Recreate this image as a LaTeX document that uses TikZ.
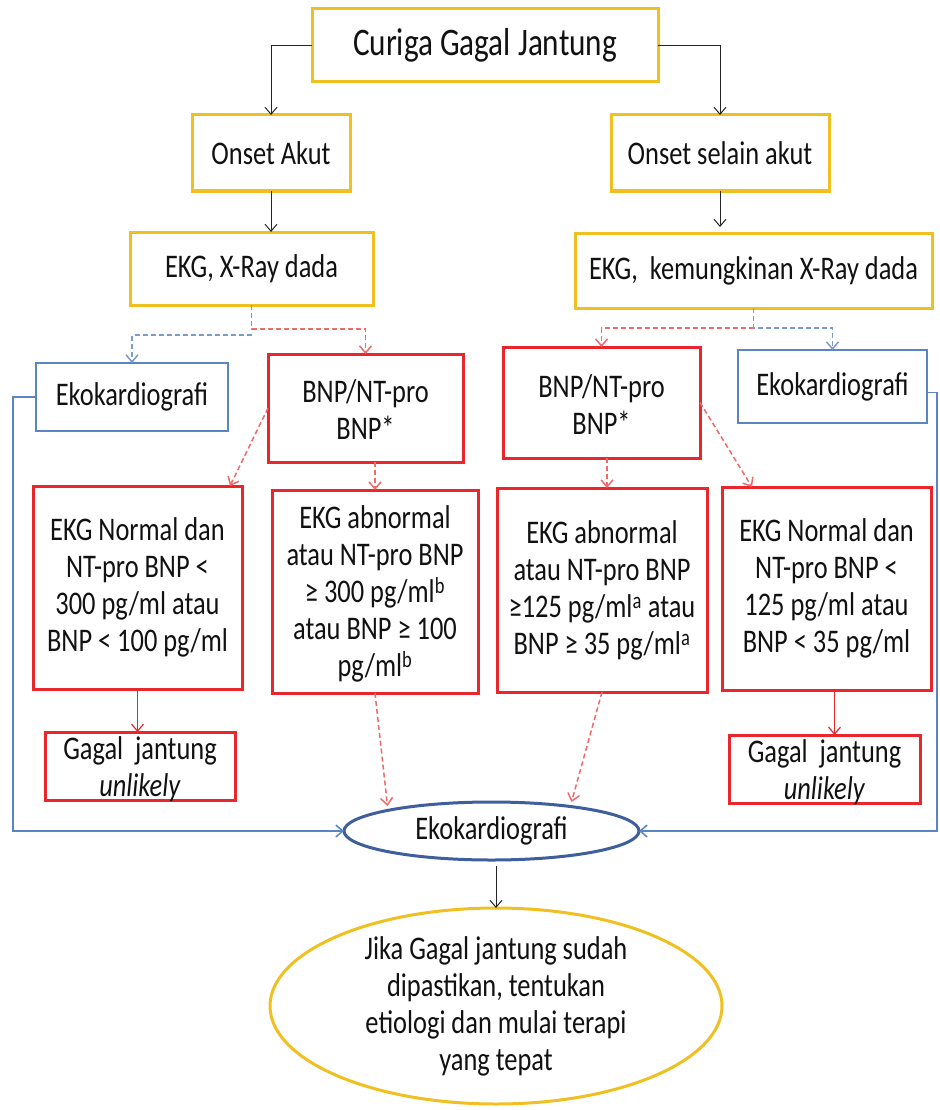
\documentclass[tikz,border=0pt]{standalone}
\usepackage{fontspec}
\setmainfont{Carlito}[FakeStretch=0.8]
\usetikzlibrary{arrows.meta,shapes.geometric,calc}
\definecolor{ylw}{HTML}{F0C020}
\definecolor{rd}{HTML}{E8262B}
\definecolor{rdl}{HTML}{F06A6A}
\definecolor{bl}{HTML}{5B84C4}
\definecolor{bll}{HTML}{7B9AD0}
\definecolor{dbl}{HTML}{3E5F9C}
\definecolor{txt}{HTML}{111111}
\begin{document}
\begin{tikzpicture}[x=1pt,y=-1pt,
 every node/.style={inner sep=0pt, outer sep=0pt},
 ybox/.style={draw=ylw, line width=3pt, rectangle},
 rbox/.style={draw=rd, line width=3pt, rectangle},
 bbox/.style={draw=bl, line width=2.2pt, rectangle},
 lbl/.style={align=center, font=\fontsize{33}{37}\selectfont, text=txt},
 tip/.style={-{Straight Barb[length=7pt,width=12pt]}},
 blk/.style={draw=black!85, line width=1pt, tip},
 rsolid/.style={draw=rd, line width=1.2pt, tip},
 rdash/.style={draw=rdl, line width=1.5pt, dash pattern=on 5pt off 3pt, tip},
 bdash/.style={draw=bll, line width=1.5pt, dash pattern=on 5pt off 3pt, tip},
 bline/.style={draw=bl, line width=1.5pt, tip},
]
\fill[white] (0,0) rectangle (939,1110);
\useasboundingbox (0,0) rectangle (939,1110);

% boxes
\node[ybox, minimum width=346, minimum height=73] (cur) at (485,45.5) {};
\node[ybox, minimum width=158, minimum height=76] (oa) at (271,153) {};
\node[ybox, minimum width=218, minimum height=76] (osa) at (720,153) {};
\node[ybox, minimum width=243, minimum height=73] (ekg1) at (251.5,268.5) {};
\node[ybox, minimum width=357, minimum height=75] (ekg2) at (753.5,270.5) {};
\node[bbox, minimum width=192, minimum height=68] (eko1) at (132,397) {};
\node[rbox, minimum width=195, minimum height=108] (bnp1) at (365.5,408) {};
\node[rbox, minimum width=197, minimum height=111] (bnp2) at (601.5,402.5) {};
\node[bbox, minimum width=189, minimum height=73] (eko2) at (832.5,386.5) {};
\node[rbox, minimum width=209, minimum height=203] (n1) at (137.5,587.5) {};
\node[rbox, minimum width=206, minimum height=203] (a1) at (375,591.5) {};
\node[rbox, minimum width=210, minimum height=204] (a2) at (602,590) {};
\node[rbox, minimum width=209, minimum height=203] (n2) at (826.5,588.5) {};
\node[rbox, minimum width=190, minimum height=68] (g1) at (140,766) {};
\node[rbox, minimum width=191, minimum height=68] (g2) at (824.5,769) {};
\node[ellipse, draw=dbl, line width=3pt, minimum width=295, minimum height=58] (ell) at (491.5,831) {};
\node[ellipse, draw=ylw, line width=3pt, minimum width=452, minimum height=196] (big) at (496,1006) {};

% texts
\node[lbl, font=\fontsize{39}{44}\selectfont] (curt) at (cur) {Curiga Gagal Jantung};
\node[lbl] (oat) at (oa) {Onset Akut};
\node[lbl] (osat) at (osa) {Onset selain akut};
\node[lbl] (ekg1t) at (ekg1) {EKG, X-Ray dada};
\node[lbl] (ekg2t) at (ekg2) {EKG,\ \ kemungkinan X-Ray dada};
\node[lbl] (eko1t) at (eko1) {Ekokardiografi};
\node[lbl] (eko2t) at (eko2) {Ekokardiografi};
\node[lbl] (bnp1t) at ($(bnp1)+(0,2)$) {BNP/NT-pro\\BNP*};
\node[lbl] (bnp2t) at ($(bnp2)+(0,2)$) {BNP/NT-pro\\BNP*};
\node[lbl] (n1t) at (n1) {EKG Normal dan\\NT-pro BNP <\\300 pg/ml atau\\BNP < 100 pg/ml};
\node[lbl] (a1t) at ($(a1)+(0,2)$) {EKG abnormal\\atau NT-pro BNP\\≥ 300 pg/ml\textsuperscript{b}\\atau BNP ≥ 100\\pg/ml\textsuperscript{b}};
\node[lbl] (a2t) at (a2) {EKG abnormal\\atau NT-pro BNP\\≥125 pg/ml\textsuperscript{a} atau\\BNP ≥ 35 pg/ml\textsuperscript{a}};
\node[lbl] (n2t) at (n2) {EKG Normal dan\\NT-pro BNP <\\125 pg/ml atau\\BNP < 35 pg/ml};
\node[lbl] (g1t) at ($(g1)+(0,3)$) {Gagal\ \ jantung\\\textit{unlikely}};
\node[lbl] (g2t) at ($(g2)+(0,3)$) {Gagal\ \ jantung\\\textit{unlikely}};
\node[lbl] (ellt) at (ell) {Ekokardiografi};
\node[lbl] (bigt) at (big) {Jika Gagal jantung sudah\\dipastikan, tentukan\\etiologi dan mulai terapi\\yang tepat};

% coordinates
\coordinate (j1r) at ($(ekg1.south)+(0,24)$);
\coordinate (j1b) at ($(ekg1.south)+(0,30)$);
\coordinate (j2) at ($(ekg2.south)+(0,20)$);
\coordinate (v1) at ($(a1.north)$);
\coordinate (v2) at ($(a2.north)+(5,0)$);
\coordinate (vn1) at ($(n1.north east)+(-12,0)$);
\coordinate (vn2) at ($(n2.north west)+(30,0)$);
\coordinate (vg2) at ($(g2.north)+(10,0)$);
\coordinate (e1) at ($(ell.center)+(-104,-25)$);
\coordinate (e2) at ($(ell.center)+(80,-29)$);
\coordinate (L) at (13,831);
\coordinate (R) at (937,831);

% black connectors
\draw[blk] (cur.west) -| (oa.north);
\draw[blk] (cur.east) -| (osa.north);
\draw[blk] (oa.south) -- (oa.south |- ekg1.north);
\draw[blk, shorten >=6pt] (osa.south) -- (osa.south |- ekg2.north);
\draw[blk, shorten <=6pt] (big.north |- ell.south) -- (big.north);

% dashed from ekg1
\draw[bdash] (j1b) -| (eko1.north);
\draw[rdash] (ekg1.south) -- (j1r) -| (bnp1.north);
% dashed from ekg2
\draw[rdash] (j2) -| (bnp2.north);
\draw[bdash] (ekg2.south) -- (j2) -| (eko2.north);

% red dashed to results
\draw[rdash] (bnp1.west) -- (vn1);
\draw[rdash] (v1 |- bnp1.south) -- (v1);
\draw[rdash] (v2 |- bnp2.south) -- (v2);
\draw[rdash] (bnp2.east) -- (vn2);
\draw[rdash] (a1.south) -- (e1);
\draw[rdash] (a2.south) -- (e2);

% solid red
\draw[rsolid] (n1.south) -- (n1.south |- g1.north);
\draw[rsolid] (vg2 |- n2.south) -- (vg2);

% blue lines to ellipse
\draw[bline] (eko1.west) -| (L) -- (ell.west);
\draw[bline] ($(eko2.east)+(0,6)$) -| (R) -- (ell.east);
\end{tikzpicture}
\end{document}
